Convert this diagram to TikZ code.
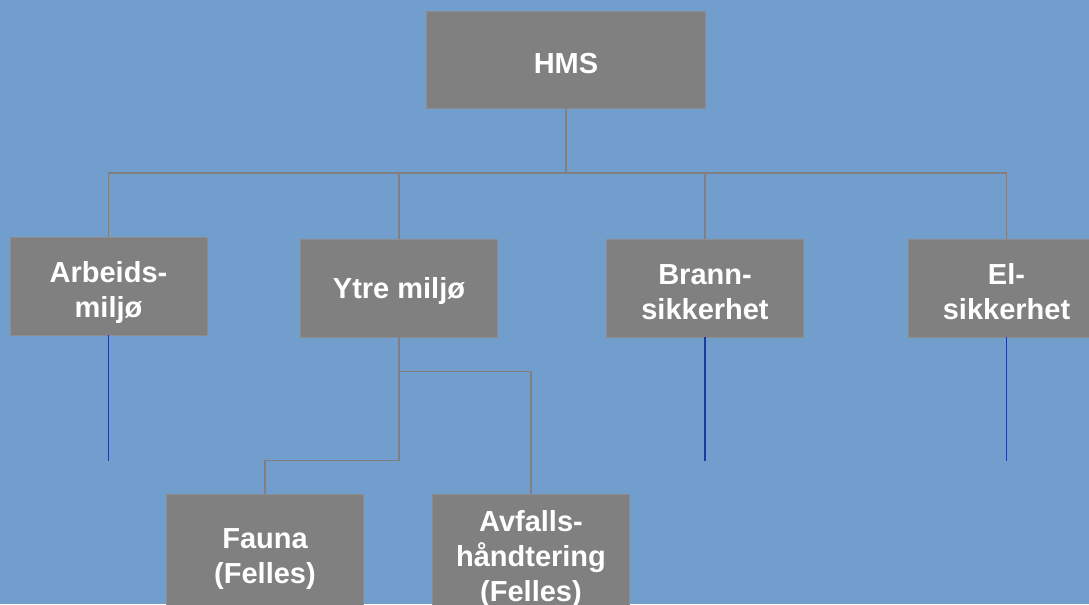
\documentclass[tikz,border=0pt]{standalone}
\usepackage{fontspec}
\setmainfont{Liberation Sans}
\usepackage{tikz}

\definecolor{bgblue}{RGB}{114,158,206}
\definecolor{boxgray}{RGB}{128,128,128}
\definecolor{stubblue}{RGB}{26,60,156}

% lowers the first line of a wrapped label a little
\newcommand{\toprow}[1][1.2em]{\rule{0pt}{#1}}

\begin{document}
\begin{tikzpicture}[
    unit/.style={fill=boxgray, draw=boxgray!90!white, text=white, align=center,
        minimum width=3.94cm, minimum height=1.96cm, inner sep=0pt,
        font=\bfseries\fontsize{16.5}{19.9}\selectfont,
        execute at begin node={\rule{0pt}{0.95em}}},
    link/.style={draw=boxgray, line width=1.1pt},
    stub/.style={draw=stubblue, line width=0.8pt}
]
    \useasboundingbox (0, 0) rectangle (21.78, -12.08);
    \clip (0, 0) rectangle (21.78, -12.08);
    \fill[bgblue] (0, 0) rectangle (21.78, -12.08);

    % top
    \node[unit, minimum width=5.58cm, minimum height=1.94cm] (hms) at (11.32, -1.19) {HMS};

    % second level
    \node[unit] (arb) at (2.17, -5.72) {\toprow Arbeids-\\miljø};
    \node[unit] (ytre) at (7.98, -5.76) {Ytre miljø};
    \node[unit] (brann) at (14.10, -5.76) {\toprow[0.95em]Brann-\\sikkerhet};
    \node[unit] (el) at (20.13, -5.76) {\toprow[0.95em]El-\\sikkerhet};

    % under Ytre miljø
    \node[unit, minimum height=2.4cm] (fauna) at (5.30, -11.08) {\toprow[1.05em]Fauna\\(Felles)};
    \node[unit, minimum height=2.4cm] (avfall) at (10.62, -11.08) {\toprow[1.05em]Avfalls-\\håndtering\\(Felles)};

    \coordinate (bus) at (0, -3.46);
    \coordinate (busA) at (0, -7.43);
    \coordinate (busF) at (0, -9.21);
    \coordinate (stubend) at (0, -9.22);

    \draw[link] (hms.south) -- (hms.south |- bus) -| (arb.north);
    \draw[link] (hms.south) -- (hms.south |- bus) -| (ytre.north);
    \draw[link] (hms.south) -- (hms.south |- bus) -| (brann.north);
    \draw[link] (hms.south) -- (hms.south |- bus) -| (el.north);

    \draw[link] (ytre.south) -- (ytre.south |- busA) -| (avfall.north);
    \draw[link] (ytre.south) -- (ytre.south |- busF) -| (fauna.north);

    % loose lines
    \draw[stub] (arb.south) -- (arb.south |- stubend);
    \draw[stub] (brann.south) -- (brann.south |- stubend);
    \draw[stub] (el.south) -- (el.south |- stubend);
\end{tikzpicture}
\end{document}
